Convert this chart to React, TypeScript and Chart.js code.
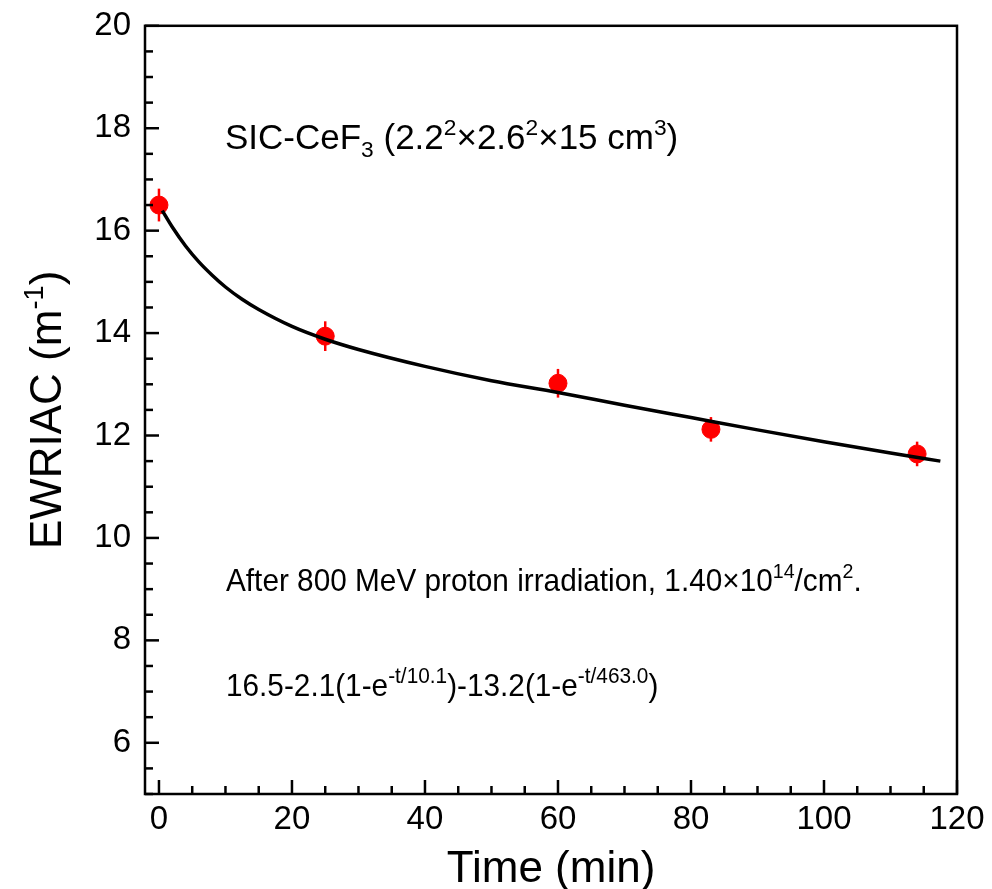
import React, { useEffect, useRef } from "react";
import { Chart, registerables } from "chart.js";

Chart.register(...registerables);

// ---- data ----
const TIME_MIN = [0, 25, 60, 83, 114];
const EWRIAC = [16.5, 13.94, 13.02, 12.12, 11.64];
const EWRIAC_ERR = [0.32, 0.29, 0.28, 0.24, 0.24];

const FIT_T = [0.5, 2, 4, 6, 8, 10, 12.5, 15, 20, 25, 30, 40, 50, 60, 70, 80, 90, 100, 110, 117.5];
const FIT_Y = [16.39, 16.07, 15.7, 15.39, 15.13, 14.9, 14.66, 14.46, 14.13, 13.88, 13.68, 13.35, 13.07, 12.84, 12.59, 12.35, 12.11, 11.88, 11.66, 11.5];

const X_TICKS = [0, 20, 40, 60, 80, 100, 120];
const Y_TICKS = [6, 8, 10, 12, 14, 16, 18, 20];
const X_MIN = -2.1;
const X_MAX = 120;
const Y_MIN = 5;
const Y_MAX = 20;
const X_MINOR = 5;
const Y_MINOR = 0.5;

const X_TITLE = "Time (min)";
const Y_TITLE = [{ t: "EWRIAC (m" }, { t: "-1", s: "sup" }, { t: ")" }];
const NOTE_SAMPLE = [
  { t: "SIC-CeF" }, { t: "3", s: "sub" }, { t: " (2.2" }, { t: "2", s: "sup" },
  { t: "\u00d72.6" }, { t: "2", s: "sup" }, { t: "\u00d715 cm" }, { t: "3", s: "sup" }, { t: ")" },
];
const NOTE_DOSE = [
  { t: "After 800 MeV proton irradiation, 1.40\u00d710" }, { t: "14", s: "sup" },
  { t: "/cm" }, { t: "2", s: "sup" }, { t: "." },
];
const NOTE_FIT = [
  { t: "16.5-2.1(1-e" }, { t: "-t/10.1", s: "sup" }, { t: ")-13.2(1-e" },
  { t: "-t/463.0", s: "sup" }, { t: ")" },
];

const FONT = "'Liberation Sans', Arial, sans-serif";

type Seg = { t: string; s?: string };

function drawRich(
  ctx: CanvasRenderingContext2D,
  segs: Seg[],
  x: number,
  y: number,
  size: number,
  align: "left" | "center",
  sx = 1,
  ratio = 0.62
) {
  const small = size * ratio;
  const widths = segs.map((seg) => {
    ctx.font = `${seg.s ? small : size}px ${FONT}`;
    return ctx.measureText(seg.t).width;
  });
  const total = widths.reduce((a, b) => a + b, 0) * sx;
  const startX = align === "center" ? x - total / 2 : x;
  ctx.save();
  ctx.translate(startX, y);
  ctx.scale(sx, 1);
  ctx.textAlign = "left";
  ctx.textBaseline = "alphabetic";
  ctx.fillStyle = "#000";
  let px = 0;
  segs.forEach((seg, i) => {
    ctx.font = `${seg.s ? small : size}px ${FONT}`;
    const dy = seg.s === "sup" ? -size * 0.4 : seg.s === "sub" ? size * 0.22 : 0;
    ctx.fillText(seg.t, px, dy);
    px += widths[i];
  });
  ctx.restore();
}

const decorPlugin = {
  id: "decor",
  beforeDatasetsDraw(chart: any) {
    const { ctx, scales } = chart;
    const xs = scales.x;
    const ys = scales.y;
    ctx.save();
    ctx.strokeStyle = "#ff0000";
    ctx.lineWidth = 2.5;
    TIME_MIN.forEach((t, i) => {
      const px = xs.getPixelForValue(t);
      ctx.beginPath();
      ctx.moveTo(px, ys.getPixelForValue(EWRIAC[i] + EWRIAC_ERR[i]));
      ctx.lineTo(px, ys.getPixelForValue(EWRIAC[i] - EWRIAC_ERR[i]));
      ctx.stroke();
    });
    ctx.restore();
  },
  afterDraw(chart: any) {
    const { ctx, chartArea: a, scales } = chart;
    const xs = scales.x;
    const ys = scales.y;
    ctx.save();
    ctx.strokeStyle = "#000";
    ctx.lineWidth = 2.5;
    ctx.lineCap = "butt";
    ctx.strokeRect(a.left, a.top, a.right - a.left, a.bottom - a.top);

    // inward ticks on left axis
    for (let v = Y_MIN; v <= Y_MAX + 1e-9; v += Y_MINOR) {
      const major = Y_TICKS.some((t) => Math.abs(t - v) < 1e-9);
      const py = ys.getPixelForValue(v);
      ctx.beginPath();
      ctx.moveTo(a.left, py);
      ctx.lineTo(a.left + (major ? 14 : 8), py);
      ctx.stroke();
    }
    // inward ticks on bottom axis
    for (let v = 0; v <= X_MAX + 1e-9; v += X_MINOR) {
      const major = X_TICKS.some((t) => Math.abs(t - v) < 1e-9);
      const px = xs.getPixelForValue(v);
      ctx.beginPath();
      ctx.moveTo(px, a.bottom);
      ctx.lineTo(px, a.bottom - (major ? 14 : 8));
      ctx.stroke();
    }

    // axis titles
    drawRich(ctx, [{ t: X_TITLE }], (a.left + a.right) / 2, 882, 44, "center");
    ctx.save();
    ctx.translate(61, (a.top + a.bottom) / 2);
    ctx.rotate(-Math.PI / 2);
    drawRich(ctx, Y_TITLE, 0, 0, 44, "center");
    ctx.restore();

    // annotations
    drawRich(ctx, NOTE_SAMPLE, 225, 149, 35, "left", 1, 0.65);
    drawRich(ctx, NOTE_DOSE, 226, 591, 32, "left", 0.93, 0.66);
    drawRich(ctx, NOTE_FIT, 226, 696, 32, "left", 0.93, 0.7);
    ctx.restore();
  },
};

export default function App() {
  const ref = useRef<HTMLCanvasElement | null>(null);
  useEffect(() => {
    if (!ref.current) return;
    const chart = new Chart(ref.current, {
      type: "scatter",
      data: {
        datasets: [
          {
            type: "line",
            data: FIT_T.map((t, i) => ({ x: t, y: FIT_Y[i] })),
            borderColor: "#000",
            borderWidth: 3.5,
            pointRadius: 0,
            cubicInterpolationMode: "monotone",
            fill: false,
            order: 0,
          } as any,
          {
            type: "scatter",
            data: TIME_MIN.map((t, i) => ({ x: t, y: EWRIAC[i] })),
            backgroundColor: "#ff0000",
            borderColor: "#ff0000",
            pointRadius: 9,
            pointHoverRadius: 9,
            order: 1,
          },
        ],
      },
      options: {
        responsive: false,
        animation: false,
        devicePixelRatio: 1,
        layout: { padding: { top: 24, right: 35, left: 0, bottom: 0 } },
        plugins: { legend: { display: false }, tooltip: { enabled: false } },
        scales: {
          x: {
            type: "linear",
            min: X_MIN,
            max: X_MAX,
            grid: { display: false },
            border: { display: false },
            afterBuildTicks: (s: any) => {
              s.ticks = X_TICKS.map((v) => ({ value: v }));
            },
            afterFit: (s: any) => {
              s.height = 95;
            },
            ticks: {
              padding: -2,
              maxRotation: 0,
              autoSkip: false,
              color: "#000",
              font: { family: FONT, size: 33 },
            },
          },
          y: {
            type: "linear",
            min: Y_MIN,
            max: Y_MAX,
            grid: { display: false },
            border: { display: false },
            afterBuildTicks: (s: any) => {
              s.ticks = Y_TICKS.map((v) => ({ value: v }));
            },
            afterFit: (s: any) => {
              s.width = 145;
            },
            ticks: {
              padding: 6,
              autoSkip: false,
              color: "#000",
              font: { family: FONT, size: 33 },
            },
          },
        },
      },
      plugins: [decorPlugin],
    });
    return () => chart.destroy();
  }, []);
  return (
    <canvas
      ref={ref}
      width={992}
      height={889}
      style={{ position: "absolute", left: 0, top: 0, display: "block", background: "#fff" }}
    />
  );
}
